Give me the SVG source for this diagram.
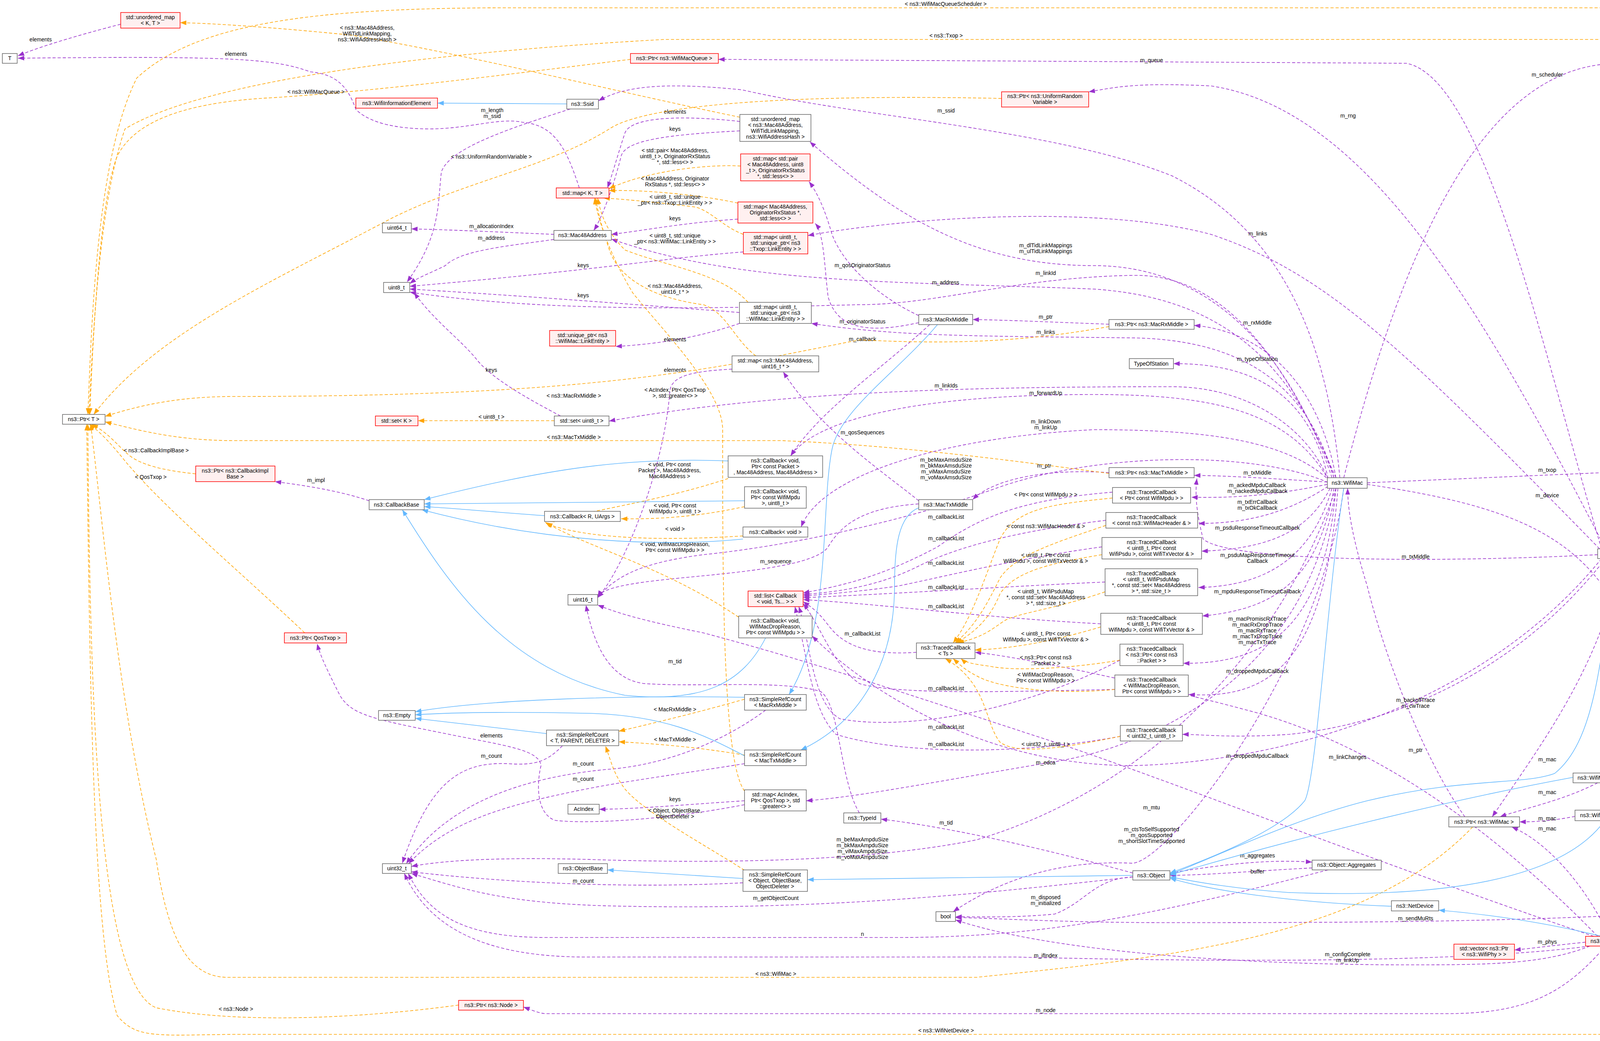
<svg xmlns="http://www.w3.org/2000/svg" width="4563" height="2665" viewBox="0 0 4563 2665">
<defs>
<style>
.n rect{fill:#fff;stroke:#666;stroke-width:1.5}
.r rect{fill:#fff0f0;stroke:#f00;stroke-width:1.5}
.g rect{fill:#999;stroke:#666;stroke-width:1.5}
text{font-family:"Liberation Sans",Arial,sans-serif;font-size:14px;text-anchor:middle;fill:#000}
.p{fill:none;stroke:#9a32cd;stroke-width:1.6;stroke-dasharray:8,5;marker-end:url(#mp)}
.o{fill:none;stroke:#ffa500;stroke-width:1.6;stroke-dasharray:8,5;marker-end:url(#mo)}
.b{fill:none;stroke:#63b8ff;stroke-width:1.6;marker-end:url(#mb)}
</style>
<marker id="mp" markerUnits="userSpaceOnUse" markerWidth="16" markerHeight="12" viewBox="0 0 16 12" refX="16" refY="6" orient="auto"><path d="M0,0L16,6L0,12z" fill="#9a32cd"/></marker>
<marker id="mo" markerUnits="userSpaceOnUse" markerWidth="16" markerHeight="12" viewBox="0 0 16 12" refX="16" refY="6" orient="auto"><path d="M0,0L16,6L0,12z" fill="#ffa500"/></marker>
<marker id="mb" markerUnits="userSpaceOnUse" markerWidth="16" markerHeight="12" viewBox="0 0 16 12" refX="16" refY="6" orient="auto"><path d="M0,0L16,6L0,12z" fill="#63b8ff"/></marker>
</defs>
<rect width="4563" height="2665" fill="#fff"/>
<g id="edges">
<path class="p" d="M309,62 C200,90 100,120 46,143"/><text x="104" y="106">elements</text>
<path class="p" d="M1483,481 C1450,380 1420,320 1338,313 C1280,300 1200,330 1100,330 C980,330 930,300 911,280 C890,220 860,190 795,184 C700,150 600,143 46,149"/><text x="604" y="143">elements</text>
<path class="p" d="M1460,279 C1300,330 1150,380 1130,440 C1120,520 1130,600 1042,722"/><text x="1260" y="287">m_length</text><text x="1260" y="302">m_ssid</text>
<path class="p" d="M1418,600 C1300,595 1150,588 1053,586"/><text x="1258" y="584">m_allocationIndex</text>
<path class="p" d="M1418,613 C1300,630 1180,640 1140,680 C1100,700 1070,710 1049,726"/><text x="1258" y="614">m_address</text>
<path class="p" d="M1903,645 C1700,660 1550,690 1049,733"/><text x="1493" y="684">keys</text>
<path class="p" d="M1893,800 C1500,770 1300,755 1049,740"/><text x="1493" y="761">keys</text>
<path class="p" d="M1894,335 C1700,345 1600,360 1590,400 C1570,480 1540,560 1520,590"/><text x="1728" y="335">keys</text>
<path class="p" d="M1894,311 C1800,300 1620,290 1600,340 C1580,400 1570,440 1555,481"/><text x="1728" y="291">elements</text>
<path class="p" d="M1889,561 C1750,570 1650,590 1565,600"/><text x="1728" y="564">keys</text>
<path class="p" d="M1893,828 C1800,860 1700,880 1576,887"/><text x="1728" y="874">elements</text>
<path class="p" d="M2352,808 C2250,760 2160,680 2130,600 C2110,530 2090,490 2071,465"/><text x="2208" y="684">m_qosOriginatorStatus</text>
<path class="p" d="M2352,826 C2200,860 2140,830 2120,760 C2110,680 2110,600 2087,572"/><text x="2208" y="828">m_originatorStatus</text>
<path class="p" d="M3410,1223 C3300,900 3100,680 2800,680 C2500,680 2300,560 2073,363"/><text x="2677" y="633">m_dlTidLinkMappings</text><text x="2677" y="648">m_ulTidLinkMappings</text>
<path class="p" d="M3420,1223 C3300,950 3150,700 2900,705 C2600,710 2400,780 2200,780 C1800,790 1400,800 1049,748"/><text x="2677" y="704">m_linkId</text>
<path class="p" d="M3415,1223 C3300,900 3100,760 2800,740 C2300,720 1900,730 1565,612"/><text x="2421" y="728">m_address</text>
<path class="p" d="M3430,1223 C3400,900 3300,600 3000,450 C2700,330 2200,300 1900,230 C1700,210 1600,220 1532,258"/><text x="2422" y="288">m_ssid</text>
<path class="p" d="M3415,1223 C3350,1000 3200,870 2900,865 C2500,860 2300,862 2077,828"/><text x="2677" y="855">m_links</text>
<path class="p" d="M4095,1405 C3600,900 3400,700 3100,600 C2800,520 2300,560 2068,603"/><text x="3220" y="603">m_links</text>
<path class="p" d="M2839,830 C2700,825 2600,820 2490,818"/><text x="2677" y="816">m_ptr</text>
<path class="p" d="M3420,1223 C3380,1000 3250,850 3057,833"/><text x="3219" y="831">m_rxMiddle</text>
<path class="p" d="M2380,831 C2250,950 2100,1050 2024,1167"/><text x="2208" y="873">m_callback</text>
<path class="p" d="M4100,1405 C3950,900 3800,200 3600,162 L1839,152"/><text x="2948" y="159">m_queue</text>
<path class="p" d="M4110,1405 C3800,800 3500,280 3100,220 C2900,210 2850,225 2787,235"/><text x="3451" y="301">m_rng</text>
<path class="p" d="M3440,1223 C3600,600 3800,200 4100,165 C4200,160 4300,165 4336,169"/><text x="3961" y="196">m_scheduler</text>
<path class="p" d="M3400,1225 C3350,1000 3200,930 3004,931"/><text x="3219" y="924">m_typeOfStation</text>
<path class="p" d="M3400,1228 C3350,1100 3200,990 3000,990 C2500,990 2000,1000 1559,1078"/><text x="2422" y="992">m_linkIds</text>
<path class="p" d="M3402,1230 C3300,1050 3100,1010 2800,1010 C2400,1010 2100,1060 2024,1167"/><text x="2677" y="1011">m_forwardUp</text>
<path class="p" d="M3405,1232 C3300,1130 3100,1100 2800,1100 C2400,1120 2100,1220 2051,1349"/><text x="2677" y="1084">m_linkDown</text><text x="2677" y="1099">m_linkUp</text>
<path class="p" d="M2352,1282 C2250,1200 2100,1100 2005,952"/><text x="2208" y="1112">m_qosSequences</text>
<path class="p" d="M3400,1235 C3200,1150 2800,1160 2550,1250 C2300,1340 2000,1400 1800,1420 C1650,1440 1580,1470 1530,1530"/><text x="2422" y="1182">m_beMaxAmsduSize</text><text x="2422" y="1197">m_bkMaxAmsduSize</text><text x="2422" y="1212">m_viMaxAmsduSize</text><text x="2422" y="1227">m_voMaxAmsduSize</text>
<path class="p" d="M2839,1210 C2700,1200 2550,1220 2490,1279"/><text x="2673" y="1197">m_ptr</text>
<path class="p" d="M3398,1234 C3250,1225 3150,1218 3057,1217"/><text x="3219" y="1215">m_txMiddle</text>
<path class="p" d="M4090,1420 C3700,1440 3150,1440 3080,1380 C3060,1300 3060,1260 3064,1225"/><text x="3624" y="1430">m_txMiddle</text>
<path class="p" d="M3398,1240 C3250,1270 3150,1275 3050,1273"/><text x="3219" y="1247">m_ackedMpduCallback</text><text x="3219" y="1262">m_nackedMpduCallback</text>
<path class="p" d="M3400,1245 C3300,1310 3200,1340 3068,1340"/><text x="3219" y="1290">m_txErrCallback</text><text x="3219" y="1305">m_txOkCallback</text>
<path class="p" d="M3405,1250 C3350,1360 3250,1405 3076,1411"/><text x="3219" y="1356">m_psduResponseTimeoutCallback</text>
<path class="p" d="M3410,1250 C3360,1420 3250,1500 3068,1504"/><text x="3219" y="1426">m_psduMapResponseTimeout</text><text x="3219" y="1441">Callback</text>
<path class="p" d="M3415,1250 C3370,1500 3250,1560 3078,1577"/><text x="3219" y="1519">m_mpduResponseTimeoutCallback</text>
<path class="p" d="M3420,1250 C3390,1600 3250,1700 3029,1698"/><text x="3219" y="1589">m_macPromiscRxTrace</text><text x="3219" y="1604">m_macRxDropTrace</text><text x="3219" y="1619">m_macRxTrace</text><text x="3219" y="1634">m_macTxDropTrace</text><text x="3219" y="1649">m_macTxTrace</text>
<path class="p" d="M3425,1250 C3390,1700 3250,1790 3043,1778"/><text x="3219" y="1723">m_droppedMpduCallback</text>
<path class="p" d="M2848,1260 C2600,1280 2500,1330 2400,1400 C2250,1480 2150,1500 2056,1518"/><text x="2422" y="1328">m_callbackList</text>
<path class="p" d="M2831,1332 C2600,1360 2450,1400 2350,1450 C2250,1500 2150,1515 2056,1522"/><text x="2422" y="1383">m_callbackList</text>
<path class="p" d="M2821,1400 C2600,1430 2400,1480 2300,1500 C2200,1515 2100,1522 2056,1526"/><text x="2422" y="1446">m_callbackList</text>
<path class="p" d="M2829,1490 C2600,1500 2300,1520 2056,1530"/><text x="2422" y="1508">m_callbackList</text>
<path class="p" d="M2818,1597 C2500,1580 2300,1550 2056,1535"/><text x="2422" y="1557">m_callbackList</text>
<path class="p" d="M2346,1670 C2200,1680 2150,1640 2120,1600 C2090,1560 2070,1550 2056,1540"/><text x="2208" y="1627">m_callbackList</text>
<path class="p" d="M2854,1765 C2600,1770 2300,1780 2200,1750 C2130,1700 2100,1600 2056,1545"/><text x="2422" y="1767">m_callbackList</text>
<path class="p" d="M2867,1690 C2600,1830 2300,1870 2150,1840 C2080,1800 2075,1650 2045,1553"/><text x="2422" y="1866">m_callbackList</text>
<path class="p" d="M2868,1885 C2600,1935 2300,1930 2140,1880 C2080,1820 2070,1700 2035,1553"/><text x="2422" y="1910">m_callbackList</text>
<path class="p" d="M2200,2081 C2150,2000 2150,1800 2100,1770 C2000,1740 1800,1760 1650,1750 C1560,1740 1520,1650 1500,1549"/><text x="1728" y="1698">m_tid</text>
<path class="p" d="M2352,1290 C2200,1300 2150,1350 2120,1400 C2080,1460 1800,1470 1650,1490 C1580,1500 1540,1510 1530,1528"/><text x="1986" y="1442">m_sequence</text>
<path class="p" d="M945,1282 C880,1260 800,1245 704,1233"/><text x="809" y="1234">m_impl</text>
<path class="p" d="M1874,945 C1780,950 1720,960 1715,1000 C1700,1200 1600,1450 1530,1530"/><text x="1728" y="952">elements</text>
<path class="p" d="M1435,1065 C1350,1020 1260,970 1220,920 C1180,870 1110,820 1060,749"/><text x="1258" y="952">keys</text>
<path class="p" d="M1906,2050 C1750,2060 1650,2070 1534,2072"/><text x="1728" y="2051">keys</text>
<path class="p" d="M1906,2060 C1700,2100 1500,2110 1420,2100 C1370,2080 1375,2000 1385,1960 C1380,1920 1300,1910 1150,1880 C950,1840 900,1830 870,1780 C840,1720 820,1680 812,1648"/><text x="1258" y="1888">elements</text>
<path class="p" d="M1440,1909 C1400,1950 1370,1960 1300,1955 C1180,1950 1100,2000 1030,2210"/><text x="1258" y="1940">m_count</text>
<path class="p" d="M1960,1818 C1850,1900 1700,1960 1550,1970 C1350,1990 1150,2050 1040,2211"/><text x="1493" y="1960">m_count</text>
<path class="p" d="M1906,1955 C1750,1980 1600,2000 1500,2020 C1300,2060 1150,2100 1046,2211"/><text x="1493" y="1999">m_count</text>
<path class="p" d="M1902,2260 C1600,2275 1300,2260 1053,2232"/><text x="1493" y="2260">m_count</text>
<path class="p" d="M2900,2245 C2500,2290 2100,2330 1600,2320 C1300,2315 1200,2280 1053,2236"/><text x="1986" y="2304">m_getObjectCount</text>
<path class="p" d="M3420,1250 C3300,1600 3000,2000 2500,2150 C2200,2210 1800,2210 1500,2200 C1300,2195 1150,2200 1053,2218"/><text x="2208" y="2154">m_beMaxAmpduSize</text><text x="2208" y="2169">m_bkMaxAmpduSize</text><text x="2208" y="2184">m_viMaxAmpduSize</text><text x="2208" y="2199">m_voMaxAmpduSize</text>
<path class="p" d="M3400,2227 C3000,2330 2700,2400 2300,2400 L1400,2400 C1200,2400 1100,2350 1045,2236"/><text x="2208" y="2396">n</text>
<path class="p" d="M4070,2422 C3700,2470 3000,2460 2600,2450 L1500,2450 C1250,2450 1100,2380 1035,2236"/><text x="2677" y="2451">m_ifIndex</text>
<path class="p" d="M2900,2235 C2700,2180 2450,2120 2255,2097"/><text x="2422" y="2111">m_tid</text>
<path class="p" d="M2995,2235 C3150,2210 3250,2200 3359,2207"/><text x="3219" y="2195">m_aggregates</text>
<path class="p" d="M3359,2222 C3200,2230 3100,2240 2995,2241"/><text x="3219" y="2236">buffer</text>
<path class="p" d="M2900,2245 C2800,2250 2780,2310 2700,2340 C2600,2350 2500,2347 2446,2347"/><text x="2677" y="2302">m_disposed</text><text x="2677" y="2317">m_initialized</text>
<path class="p" d="M3440,1250 C3380,1700 3000,2200 2900,2210 C2700,2200 2550,2260 2440,2334"/><text x="2948" y="2128">m_ctsToSelfSupported</text><text x="2948" y="2143">m_qosSupported</text><text x="2948" y="2158">m_shortSlotTimeSupported</text>
<path class="p" d="M4346,2333 C3900,2360 3500,2362 3000,2362 C2700,2362 2550,2350 2446,2349"/><text x="3624" y="2356">m_sendMuRts</text>
<path class="p" d="M4070,2422 C3950,2470 3800,2470 3600,2470 C3200,2470 2700,2440 2446,2355"/><text x="3450" y="2448">m_configComplete</text><text x="3450" y="2463">m_linkUp</text>
<path class="p" d="M4080,2397 C3500,2200 3000,2000 2700,1900 C2300,1770 2100,1700 1800,1620 C1600,1580 1560,1560 1530,1549"/><text x="2948" y="2072">m_mtu</text>
<path class="p" d="M4110,2422 C4000,2550 3900,2595 3700,2595 L1400,2595 C1380,2595 1360,2585 1340,2578"/><text x="2677" y="2591">m_node</text>
<path class="p" d="M4059,2412 C3980,2420 3920,2428 3877,2432"/><text x="3961" y="2416">m_phys</text>
<path class="p" d="M4328,2410 L4204,2410"/><text x="4285" y="2407">m_ptr</text>
<path class="p" d="M3500,1240 C3900,1300 4100,1380 4200,1700 C4290,2000 4320,2300 4380,2397"/><text x="3961" y="1273">m_device</text>
<path class="p" d="M3500,1236 L4359,1199"/><text x="3961" y="1208">m_txop</text>
<path class="p" d="M4380,1208 C4300,1260 4200,1330 4145,1405"/><text x="4285" y="1231">m_ptr</text>
<path class="p" d="M4440,207 C4400,800 4200,1500 4150,1979"/><text x="4285" y="1271">m_ptr</text>
<path class="p" d="M3750,2091 C3650,1950 3550,1700 3500,1500 C3460,1370 3450,1300 3450,1250"/><text x="3624" y="1925">m_ptr</text>
<path class="p" d="M4150,1430 C4100,1700 3950,1900 3820,2091"/><text x="3961" y="1949">m_mac</text>
<path class="p" d="M4090,2004 C4000,2050 3900,2070 3840,2091"/><text x="3961" y="2033">m_mac</text>
<path class="p" d="M4032,2090 C3980,2100 3940,2104 3890,2104"/><text x="3961" y="2100">m_mac</text>
<path class="p" d="M4120,2397 C4050,2250 3950,2150 3870,2117"/><text x="3961" y="2126">m_mac</text>
<path class="p" d="M4090,2397 C3800,2100 3500,1900 3200,1820 C2900,1740 2600,1680 2496,1670"/><text x="3450" y="1943">m_linkChanges</text>
<path class="p" d="M4110,1430 C3900,1700 3600,1850 3300,1880 C3150,1890 3080,1880 3027,1880"/><text x="3624" y="1797">m_backoffTrace</text><text x="3624" y="1812">m_cwTrace</text>
<path class="p" d="M4100,1430 C3800,1800 3300,1950 2900,1960 C2500,1960 2200,1750 2079,1628"/><text x="3219" y="1940">m_droppedMpduCallback</text>
<path class="p" d="M3420,1250 C3350,1700 3000,1900 2700,1950 C2400,2000 2200,2040 2064,2050"/><text x="2677" y="1957">m_edca</text>

<path class="o" d="M1894,300 C1600,240 1200,140 900,90 C700,70 550,60 461,58"/><text x="940" y="76">&lt; ns3::Mac48Address,</text><text x="940" y="91">WifiTidLinkMapping,</text><text x="940" y="106">ns3::WifiAddressHash &gt;</text>
<path class="o" d="M1614,152 C1300,190 1000,230 700,250 C500,260 350,300 300,400 C260,500 240,800 230,1061"/><text x="809" y="240">&lt; ns3::WifiMacQueue &gt;</text>
<path class="o" d="M2564,252 C2000,240 1650,270 1560,330 C1400,430 1200,460 1000,560 C700,720 400,850 240,1061"/><text x="1258" y="406">&lt; ns3::UniformRandomVariable &gt;</text>
<path class="o" d="M4480,166 C4440,100 4400,20 4300,20 L1300,20 C800,20 500,60 350,200 C250,400 235,800 225,1061"/><text x="2421" y="15">&lt; ns3::WifiMacQueueScheduler &gt;</text>
<path class="o" d="M4440,1182 C4420,800 4380,250 4290,110 C4270,101 4200,101 4100,101 L1700,101 C1000,140 500,220 320,330 C260,500 240,800 228,1061"/><text x="2422" y="96">&lt; ns3::Txop &gt;</text>
<path class="o" d="M1896,425 C1800,420 1650,440 1559,483"/><text x="1728" y="390">&lt; std::pair&lt; Mac48Address,</text><text x="1728" y="405">uint8_t &gt;, OriginatorRxStatus</text><text x="1728" y="420">*, std::less&lt;&gt; &gt;</text>
<path class="o" d="M1889,520 C1800,500 1650,485 1559,488"/><text x="1728" y="462">&lt; Mac48Address, Originator</text><text x="1728" y="477">RxStatus *, std::less&lt;&gt; &gt;</text>
<path class="o" d="M1903,600 C1850,580 1820,540 1780,530 C1700,520 1600,510 1545,507"/><text x="1728" y="509">&lt; uint8_t, std::unique</text><text x="1728" y="524">_ptr&lt; ns3::Txop::LinkEntity &gt; &gt;</text>
<path class="o" d="M1915,774 C1850,700 1700,680 1600,640 C1560,600 1540,560 1530,507"/><text x="1728" y="608">&lt; uint8_t, std::unique</text><text x="1728" y="623">_ptr&lt; ns3::WifiMac::LinkEntity &gt; &gt;</text>
<path class="o" d="M1935,911 C1880,870 1860,800 1800,780 C1650,760 1580,700 1560,640 C1540,580 1530,540 1525,507"/><text x="1728" y="737">&lt; ns3::Mac48Address,</text><text x="1728" y="752">uint16_t * &gt;</text>
<path class="o" d="M1906,2025 C1850,1950 1850,1500 1850,1100 C1850,1000 1700,850 1620,750 C1560,650 1530,560 1522,507"/><text x="1728" y="1003">&lt; AcIndex, Ptr&lt; QosTxop</text><text x="1728" y="1018">&gt;, std::greater&lt;&gt; &gt;</text>
<path class="o" d="M2839,836 C2600,880 2400,880 2200,870 C1800,950 1500,1015 600,1015 C450,1015 350,1040 269,1066"/><text x="1469" y="1018">&lt; ns3::MacRxMiddle &gt;</text>
<path class="o" d="M2839,1212 C2600,1180 2300,1140 2000,1128 L600,1128 C450,1128 350,1100 269,1080"/><text x="1469" y="1124">&lt; ns3::MacTxMiddle &gt;</text>
<path class="o" d="M1419,1077 L1070,1077"/><text x="1258" y="1072">&lt; uint8_t &gt;</text>
<path class="o" d="M501,1213 C420,1205 360,1190 330,1165 C300,1140 280,1110 235,1086"/><text x="400" y="1158">&lt; ns3::CallbackImplBase &gt;</text>
<path class="o" d="M780,1620 C600,1450 420,1300 320,1180 C280,1130 250,1100 228,1086"/><text x="386" y="1226">&lt; QosTxop &gt;</text>
<path class="o" d="M1864,1225 C1700,1280 1500,1310 1403,1335"/><text x="1714" y="1194">&lt; void, Ptr&lt; const</text><text x="1714" y="1209">Packet &gt;, Mac48Address,</text><text x="1714" y="1224">Mac48Address &gt;</text>
<path class="o" d="M1906,1297 C1800,1320 1700,1330 1590,1328"/><text x="1728" y="1299">&lt; void, Ptr&lt; const</text><text x="1728" y="1314">WifiMpdu &gt;, uint8_t &gt;</text>
<path class="o" d="M1902,1372 C1700,1385 1500,1380 1398,1340"/><text x="1728" y="1359">&lt; void &gt;</text>
<path class="o" d="M1891,1580 C1700,1450 1500,1400 1396,1337"/><text x="1728" y="1398">&lt; void, WifiMacDropReason,</text><text x="1728" y="1413">Ptr&lt; const WifiMpdu &gt; &gt;</text>
<path class="o" d="M1906,1790 C1800,1820 1700,1845 1584,1872"/><text x="1728" y="1821">&lt; MacRxMiddle &gt;</text>
<path class="o" d="M1906,1933 C1800,1915 1700,1905 1584,1899"/><text x="1728" y="1898">&lt; MacTxMiddle &gt;</text>
<path class="o" d="M1906,2228 C1800,2160 1650,2080 1600,2020 C1570,1980 1565,1950 1550,1910"/><text x="1728" y="2080">&lt; Object, ObjectBase,</text><text x="1728" y="2095">ObjectDeleter &gt;</text>
<path class="o" d="M2848,1275 C2700,1290 2600,1300 2560,1380 C2520,1480 2490,1580 2440,1646"/><text x="2677" y="1271">&lt; Ptr&lt; const WifiMpdu &gt; &gt;</text>
<path class="o" d="M2831,1345 C2700,1390 2600,1420 2560,1480 C2530,1540 2500,1600 2445,1646"/><text x="2677" y="1352">&lt; const ns3::WifiMacHeader &amp; &gt;</text>
<path class="o" d="M2821,1420 C2700,1440 2600,1460 2560,1520 C2540,1570 2510,1610 2448,1646"/><text x="2677" y="1426">&lt; uint8_t, Ptr&lt; const</text><text x="2677" y="1441">WifiPsdu &gt;, const WifiTxVector &amp; &gt;</text>
<path class="o" d="M2829,1515 C2700,1560 2600,1570 2570,1590 C2540,1610 2520,1630 2452,1646"/><text x="2677" y="1519">&lt; uint8_t, WifiPsduMap</text><text x="2677" y="1534">*, const std::set&lt; Mac48Address</text><text x="2677" y="1549">&gt; *, std::size_t &gt;</text>
<path class="o" d="M2818,1605 C2700,1640 2600,1660 2496,1664"/><text x="2677" y="1627">&lt; uint8_t, Ptr&lt; const</text><text x="2677" y="1642">WifiMpdu &gt;, const WifiTxVector &amp; &gt;</text>
<path class="o" d="M2867,1690 C2750,1710 2600,1720 2530,1705 C2490,1700 2470,1695 2460,1686"/><text x="2677" y="1688">&lt; ns3::Ptr&lt; const ns3</text><text x="2677" y="1703">::Packet &gt; &gt;</text>
<path class="o" d="M2854,1765 C2700,1780 2550,1760 2500,1730 C2470,1715 2455,1700 2440,1686"/><text x="2677" y="1732">&lt; WifiMacDropReason,</text><text x="2677" y="1747">Ptr&lt; const WifiMpdu &gt; &gt;</text>
<path class="o" d="M2868,1885 C2700,1920 2600,1930 2560,1900 C2520,1850 2530,1750 2420,1686"/><text x="2677" y="1910">&lt; uint32_t, uint8_t &gt;</text>
<path class="o" d="M1174,2573 C900,2610 600,2620 400,2580 C250,2520 230,1800 225,1086"/><text x="604" y="2588">&lt; ns3::Node &gt;</text>
<path class="o" d="M4440,2422 C4380,2550 4300,2648 4150,2648 L600,2648 C400,2650 350,2660 300,2600 C240,2400 230,1800 222,1086"/><text x="2422" y="2643">&lt; ns3::WifiNetDevice &gt;</text>
<path class="o" d="M3770,2117 C3500,2400 3000,2450 2500,2502 C1500,2502 800,2502 580,2502 C480,2500 430,2400 400,2200 C300,1800 260,1300 232,1086"/><text x="1986" y="2498">&lt; ns3::WifiMac &gt;</text>

<path class="b" d="M1451,266 L1120,264"/>
<path class="b" d="M1864,1180 C1600,1170 1400,1200 1086,1279"/>
<path class="b" d="M1906,1282 C1600,1284 1300,1288 1086,1290"/>
<path class="b" d="M1394,1320 C1250,1310 1150,1300 1086,1297"/>
<path class="b" d="M1902,1380 C1700,1400 1400,1390 1080,1305"/>
<path class="b" d="M1960,1633 C1900,1750 1800,1800 1600,1780 C1300,1720 1150,1500 1030,1305"/>
<path class="b" d="M2400,831 C2300,950 2150,1050 2130,1150 C2100,1300 2130,1600 2020,1778"/>
<path class="b" d="M2352,1300 C2300,1320 2290,1400 2290,1500 C2290,1700 2200,1850 2050,1920"/>
<path class="b" d="M1906,1785 C1600,1780 1250,1790 1063,1822"/>
<path class="b" d="M1906,1935 C1800,1880 1700,1830 1500,1826 C1300,1822 1150,1824 1063,1830"/>
<path class="b" d="M1399,1878 C1250,1860 1150,1850 1063,1839"/>
<path class="b" d="M1902,2249 C1750,2240 1650,2233 1555,2227"/>
<path class="b" d="M2900,2241 L2067,2252"/>
<path class="b" d="M3440,1250 C3400,1500 3370,2000 3340,2050 C3300,2100 3200,2160 2995,2235"/>
<path class="b" d="M4130,1430 C4100,1700 4080,1900 3980,1980 C3900,2010 3750,1990 3500,2050 C3300,2100 3100,2200 2995,2238"/>
<path class="b" d="M4027,1990 C3700,2050 3300,2150 2995,2240"/>
<path class="b" d="M4108,2101 C4000,2250 3700,2300 3300,2285 C3150,2275 3050,2255 2995,2245"/>
<path class="b" d="M3562,2320 C3300,2310 3100,2280 2995,2248"/>
<path class="b" d="M4100,2397 C3950,2360 3800,2340 3683,2330"/>
<path class="b" d="M4410,2306 L4150,2101"/>
</g>

<g id="T" class="n"><rect x="6" y="137" width="38" height="25"/><text x="25" y="154">T</text></g>
<g id="umapKT" class="r"><rect x="309" y="32" width="152" height="40"/><text x="385" y="49">std::unordered_map</text><text x="385" y="64">&lt; K, T &gt;</text></g>
<g id="WIE" class="r"><rect x="911" y="251" width="209" height="26"/><text x="1015" y="269">ns3::WifiInformationElement</text></g>
<g id="Ssid" class="n"><rect x="1451" y="254" width="81" height="25"/><text x="1491" y="271">ns3::Ssid</text></g>
<g id="mapKT" class="r"><rect x="1424" y="481" width="135" height="26"/><text x="1491" y="499">std::map&lt; K, T &gt;</text></g>
<g id="uint64" class="n"><rect x="979" y="571" width="74" height="25"/><text x="1016" y="588">uint64_t</text></g>
<g id="Mac48" class="n"><rect x="1418" y="590" width="147" height="25"/><text x="1491" y="607">ns3::Mac48Address</text></g>
<g id="uint8" class="n"><rect x="982" y="723" width="67" height="26"/><text x="1015" y="741">uint8_t</text></g>
<g id="uptrWM" class="r"><rect x="1407" y="846" width="169" height="40"/><text x="1491" y="863">std::unique_ptr&lt; ns3</text><text x="1491" y="878">::WifiMac::LinkEntity &gt;</text></g>
<g id="PtrWMQ" class="r"><rect x="1614" y="137" width="225" height="25"/><text x="1726" y="154">ns3::Ptr&lt; ns3::WifiMacQueue &gt;</text></g>
<g id="PtrURV" class="r"><rect x="2564" y="235" width="223" height="39"/><text x="2675" y="251">ns3::Ptr&lt; ns3::UniformRandom</text><text x="2675" y="266">Variable &gt;</text></g>
<g id="umapBig" class="n"><rect x="1894" y="293" width="182" height="69"/><text x="1985" y="310">std::unordered_map</text><text x="1985" y="325">&lt; ns3::Mac48Address,</text><text x="1985" y="340">WifiTidLinkMapping,</text><text x="1985" y="355">ns3::WifiAddressHash &gt;</text></g>
<g id="mapPair" class="r"><rect x="1896" y="394" width="178" height="69"/><text x="1985" y="411">std::map&lt; std::pair</text><text x="1985" y="426">&lt; Mac48Address, uint8</text><text x="1985" y="441">_t &gt;, OriginatorRxStatus</text><text x="1985" y="456">*, std::less&lt;&gt; &gt;</text></g>
<g id="mapOrig" class="r"><rect x="1889" y="517" width="192" height="54"/><text x="1985" y="534">std::map&lt; Mac48Address,</text><text x="1985" y="549">OriginatorRxStatus *,</text><text x="1985" y="564">std::less&lt;&gt; &gt;</text></g>
<g id="mapTxopLE" class="r"><rect x="1903" y="595" width="165" height="55"/><text x="1985" y="612">std::map&lt; uint8_t,</text><text x="1985" y="627">std::unique_ptr&lt; ns3</text><text x="1985" y="642">::Txop::LinkEntity &gt; &gt;</text></g>
<g id="mapWMLE" class="n"><rect x="1893" y="774" width="184" height="54"/><text x="1985" y="791">std::map&lt; uint8_t,</text><text x="1985" y="806">std::unique_ptr&lt; ns3</text><text x="1985" y="821">::WifiMac::LinkEntity &gt; &gt;</text></g>
<g id="MacRx" class="n"><rect x="2352" y="805" width="138" height="26"/><text x="2421" y="823">ns3::MacRxMiddle</text></g>
<g id="PtrMacRx" class="n"><rect x="2839" y="818" width="218" height="25"/><text x="2948" y="835">ns3::Ptr&lt; ns3::MacRxMiddle &gt;</text></g>
<g id="PtrWMQS" class="n"><rect x="4336" y="166" width="210" height="41"/><text x="4441" y="183">ns3::Ptr&lt; ns3::WifiMacQueue</text><text x="4441" y="198">Scheduler &gt;</text></g>
<g id="PtrT" class="n"><rect x="160" y="1061" width="109" height="25"/><text x="214" y="1078">ns3::Ptr&lt; T &gt;</text></g>
<g id="setK" class="r"><rect x="961" y="1065" width="109" height="25"/><text x="1015" y="1082">std::set&lt; K &gt;</text></g>
<g id="setU8" class="n"><rect x="1419" y="1065" width="140" height="25"/><text x="1489" y="1082">std::set&lt; uint8_t &gt;</text></g>
<g id="PtrCIB" class="r"><rect x="501" y="1193" width="203" height="40"/><text x="602" y="1210">ns3::Ptr&lt; ns3::CallbackImpl</text><text x="602" y="1225">Base &gt;</text></g>
<g id="CBBase" class="n"><rect x="945" y="1279" width="141" height="26"/><text x="1015" y="1297">ns3::CallbackBase</text></g>
<g id="CbR" class="n"><rect x="1394" y="1309" width="194" height="26"/><text x="1491" y="1327">ns3::Callback&lt; R, UArgs &gt;</text></g>
<g id="uint16" class="n"><rect x="1454" y="1522" width="76" height="27"/><text x="1492" y="1540">uint16_t</text></g>
<g id="PtrQos" class="r"><rect x="728" y="1620" width="159" height="26"/><text x="807" y="1638">ns3::Ptr&lt; QosTxop &gt;</text></g>
<g id="mapMacU16" class="n"><rect x="1874" y="911" width="222" height="41"/><text x="1985" y="928">std::map&lt; ns3::Mac48Address,</text><text x="1985" y="943">uint16_t * &gt;</text></g>
<g id="TypeOfStation" class="n"><rect x="2891" y="918" width="113" height="26"/><text x="2947" y="936">TypeOfStation</text></g>
<g id="CbPkt" class="n"><rect x="1864" y="1167" width="242" height="55"/><text x="1985" y="1184">ns3::Callback&lt; void,</text><text x="1985" y="1199">Ptr&lt; const Packet &gt;</text><text x="1985" y="1214">, Mac48Address, Mac48Address &gt;</text></g>
<g id="CbMpdu" class="n"><rect x="1906" y="1246" width="158" height="55"/><text x="1985" y="1263">ns3::Callback&lt; void,</text><text x="1985" y="1278">Ptr&lt; const WifiMpdu</text><text x="1985" y="1293">&gt;, uint8_t &gt;</text></g>
<g id="CbVoid" class="n"><rect x="1902" y="1349" width="166" height="26"/><text x="1985" y="1367">ns3::Callback&lt; void &gt;</text></g>
<g id="stdlist" class="r"><rect x="1915" y="1513" width="141" height="40"/><text x="1985" y="1530">std::list&lt; Callback</text><text x="1985" y="1545">&lt; void, Ts... &gt; &gt;</text></g>
<g id="CbDrop" class="n"><rect x="1891" y="1577" width="188" height="56"/><text x="1985" y="1594">ns3::Callback&lt; void,</text><text x="1985" y="1609">WifiMacDropReason,</text><text x="1985" y="1624">Ptr&lt; const WifiMpdu &gt; &gt;</text></g>
<g id="SRCRx" class="n"><rect x="1906" y="1778" width="158" height="40"/><text x="1985" y="1795">ns3::SimpleRefCount</text><text x="1985" y="1810">&lt; MacRxMiddle &gt;</text></g>
<g id="MacTx" class="n"><rect x="2352" y="1279" width="138" height="26"/><text x="2421" y="1297">ns3::MacTxMiddle</text></g>
<g id="PtrMacTx" class="n"><rect x="2839" y="1197" width="218" height="26"/><text x="2948" y="1215">ns3::Ptr&lt; ns3::MacTxMiddle &gt;</text></g>
<g id="TCmpdu" class="n"><rect x="2848" y="1248" width="200" height="40"/><text x="2948" y="1265">ns3::TracedCallback</text><text x="2948" y="1280">&lt; Ptr&lt; const WifiMpdu &gt; &gt;</text></g>
<g id="TChdr" class="n"><rect x="2831" y="1312" width="235" height="40"/><text x="2948" y="1329">ns3::TracedCallback</text><text x="2948" y="1344">&lt; const ns3::WifiMacHeader &amp; &gt;</text></g>
<g id="TCpsdu" class="n"><rect x="2821" y="1376" width="255" height="55"/><text x="2948" y="1393">ns3::TracedCallback</text><text x="2948" y="1408">&lt; uint8_t, Ptr&lt; const</text><text x="2948" y="1423">WifiPsdu &gt;, const WifiTxVector &amp; &gt;</text></g>
<g id="TCmap" class="n"><rect x="2829" y="1456" width="237" height="69"/><text x="2947" y="1473">ns3::TracedCallback</text><text x="2947" y="1488">&lt; uint8_t, WifiPsduMap</text><text x="2947" y="1503">*, const std::set&lt; Mac48Address</text><text x="2947" y="1518">&gt; *, std::size_t &gt;</text></g>
<g id="TCmpduTx" class="n"><rect x="2818" y="1570" width="260" height="54"/><text x="2948" y="1587">ns3::TracedCallback</text><text x="2948" y="1602">&lt; uint8_t, Ptr&lt; const</text><text x="2948" y="1617">WifiMpdu &gt;, const WifiTxVector &amp; &gt;</text></g>
<g id="TCpkt" class="n"><rect x="2867" y="1649" width="162" height="55"/><text x="2948" y="1666">ns3::TracedCallback</text><text x="2948" y="1681">&lt; ns3::Ptr&lt; const ns3</text><text x="2948" y="1696">::Packet &gt; &gt;</text></g>
<g id="TCdrop" class="n"><rect x="2854" y="1728" width="188" height="55"/><text x="2948" y="1745">ns3::TracedCallback</text><text x="2948" y="1760">&lt; WifiMacDropReason,</text><text x="2948" y="1775">Ptr&lt; const WifiMpdu &gt; &gt;</text></g>
<g id="TCts" class="n"><rect x="2346" y="1646" width="150" height="40"/><text x="2421" y="1663">ns3::TracedCallback</text><text x="2421" y="1678">&lt; Ts &gt;</text></g>
<g id="WifiMac" class="n"><rect x="3398" y="1223" width="102" height="27"/><text x="3449" y="1241">ns3::WifiMac</text></g>
<g id="PtrTxop" class="n"><rect x="4359" y="1182" width="163" height="26"/><text x="4440" y="1200">ns3::Ptr&lt; ns3::Txop &gt;</text></g>
<g id="Txop" class="n"><rect x="4090" y="1405" width="85" height="25"/><text x="4132" y="1422">ns3::Txop</text></g>
<g id="TCu32" class="n"><rect x="2868" y="1857" width="159" height="40"/><text x="2947" y="1874">ns3::TracedCallback</text><text x="2947" y="1889">&lt; uint32_t, uint8_t &gt;</text></g>
<g id="Empty" class="n"><rect x="969" y="1819" width="94" height="25"/><text x="1016" y="1836">ns3::Empty</text></g>
<g id="SRCT" class="n"><rect x="1399" y="1869" width="185" height="40"/><text x="1491" y="1886">ns3::SimpleRefCount</text><text x="1491" y="1901">&lt; T, PARENT, DELETER &gt;</text></g>
<g id="AcIndex" class="n"><rect x="1454" y="2059" width="80" height="25"/><text x="1494" y="2076">AcIndex</text></g>
<g id="uint32" class="n"><rect x="979" y="2211" width="74" height="25"/><text x="1016" y="2228">uint32_t</text></g>
<g id="ObjectBase" class="n"><rect x="1429" y="2211" width="126" height="25"/><text x="1492" y="2228">ns3::ObjectBase</text></g>
<g id="PtrNode" class="r"><rect x="1174" y="2561" width="166" height="25"/><text x="1257" y="2578">ns3::Ptr&lt; ns3::Node &gt;</text></g>
<g id="SRCTx" class="n"><rect x="1906" y="1920" width="158" height="40"/><text x="1985" y="1937">ns3::SimpleRefCount</text><text x="1985" y="1952">&lt; MacTxMiddle &gt;</text></g>
<g id="mapAc" class="n"><rect x="1906" y="2022" width="158" height="54"/><text x="1985" y="2039">std::map&lt; AcIndex,</text><text x="1985" y="2054">Ptr&lt; QosTxop &gt;, std</text><text x="1985" y="2069">::greater&lt;&gt; &gt;</text></g>
<g id="TypeId" class="n"><rect x="2160" y="2081" width="95" height="26"/><text x="2207" y="2099">ns3::TypeId</text></g>
<g id="SRCObj" class="n"><rect x="1902" y="2227" width="165" height="55"/><text x="1984" y="2244">ns3::SimpleRefCount</text><text x="1984" y="2259">&lt; Object, ObjectBase,</text><text x="1984" y="2274">ObjectDeleter &gt;</text></g>
<g id="Object" class="n"><rect x="2900" y="2229" width="95" height="24"/><text x="2947" y="2246">ns3::Object</text></g>
<g id="bool" class="n"><rect x="2396" y="2334" width="50" height="25"/><text x="2421" y="2351">bool</text></g>
<g id="WMQS" class="n"><rect x="4027" y="1979" width="209" height="25"/><text x="4131" y="1996">ns3::WifiMacQueueScheduler</text></g>
<g id="WPM" class="n"><rect x="4032" y="2074" width="199" height="27"/><text x="4131" y="2092">ns3::WifiProtectionManager</text></g>
<g id="PtrWM" class="n"><rect x="3709" y="2091" width="181" height="26"/><text x="3799" y="2109">ns3::Ptr&lt; ns3::WifiMac &gt;</text></g>
<g id="Aggr" class="n"><rect x="3359" y="2202" width="177" height="25"/><text x="3447" y="2219">ns3::Object::Aggregates</text></g>
<g id="NetDevice" class="n"><rect x="3562" y="2306" width="121" height="26"/><text x="3622" y="2324">ns3::NetDevice</text></g>
<g id="WDPM" class="g"><rect x="4346" y="2306" width="190" height="40"/><text x="4441" y="2323">ns3::WifiDefaultProtection</text><text x="4441" y="2338">Manager</text></g>
<g id="WND" class="r"><rect x="4059" y="2397" width="145" height="25"/><text x="4131" y="2414">ns3::WifiNetDevice</text></g>
<g id="PtrWND" class="n"><rect x="4328" y="2397" width="224" height="25"/><text x="4440" y="2414">ns3::Ptr&lt; ns3::WifiNetDevice &gt;</text></g>
<g id="vec" class="r"><rect x="3722" y="2417" width="155" height="39"/><text x="3799" y="2433">std::vector&lt; ns3::Ptr</text><text x="3799" y="2448">&lt; ns3::WifiPhy &gt; &gt;</text></g>
</svg>
